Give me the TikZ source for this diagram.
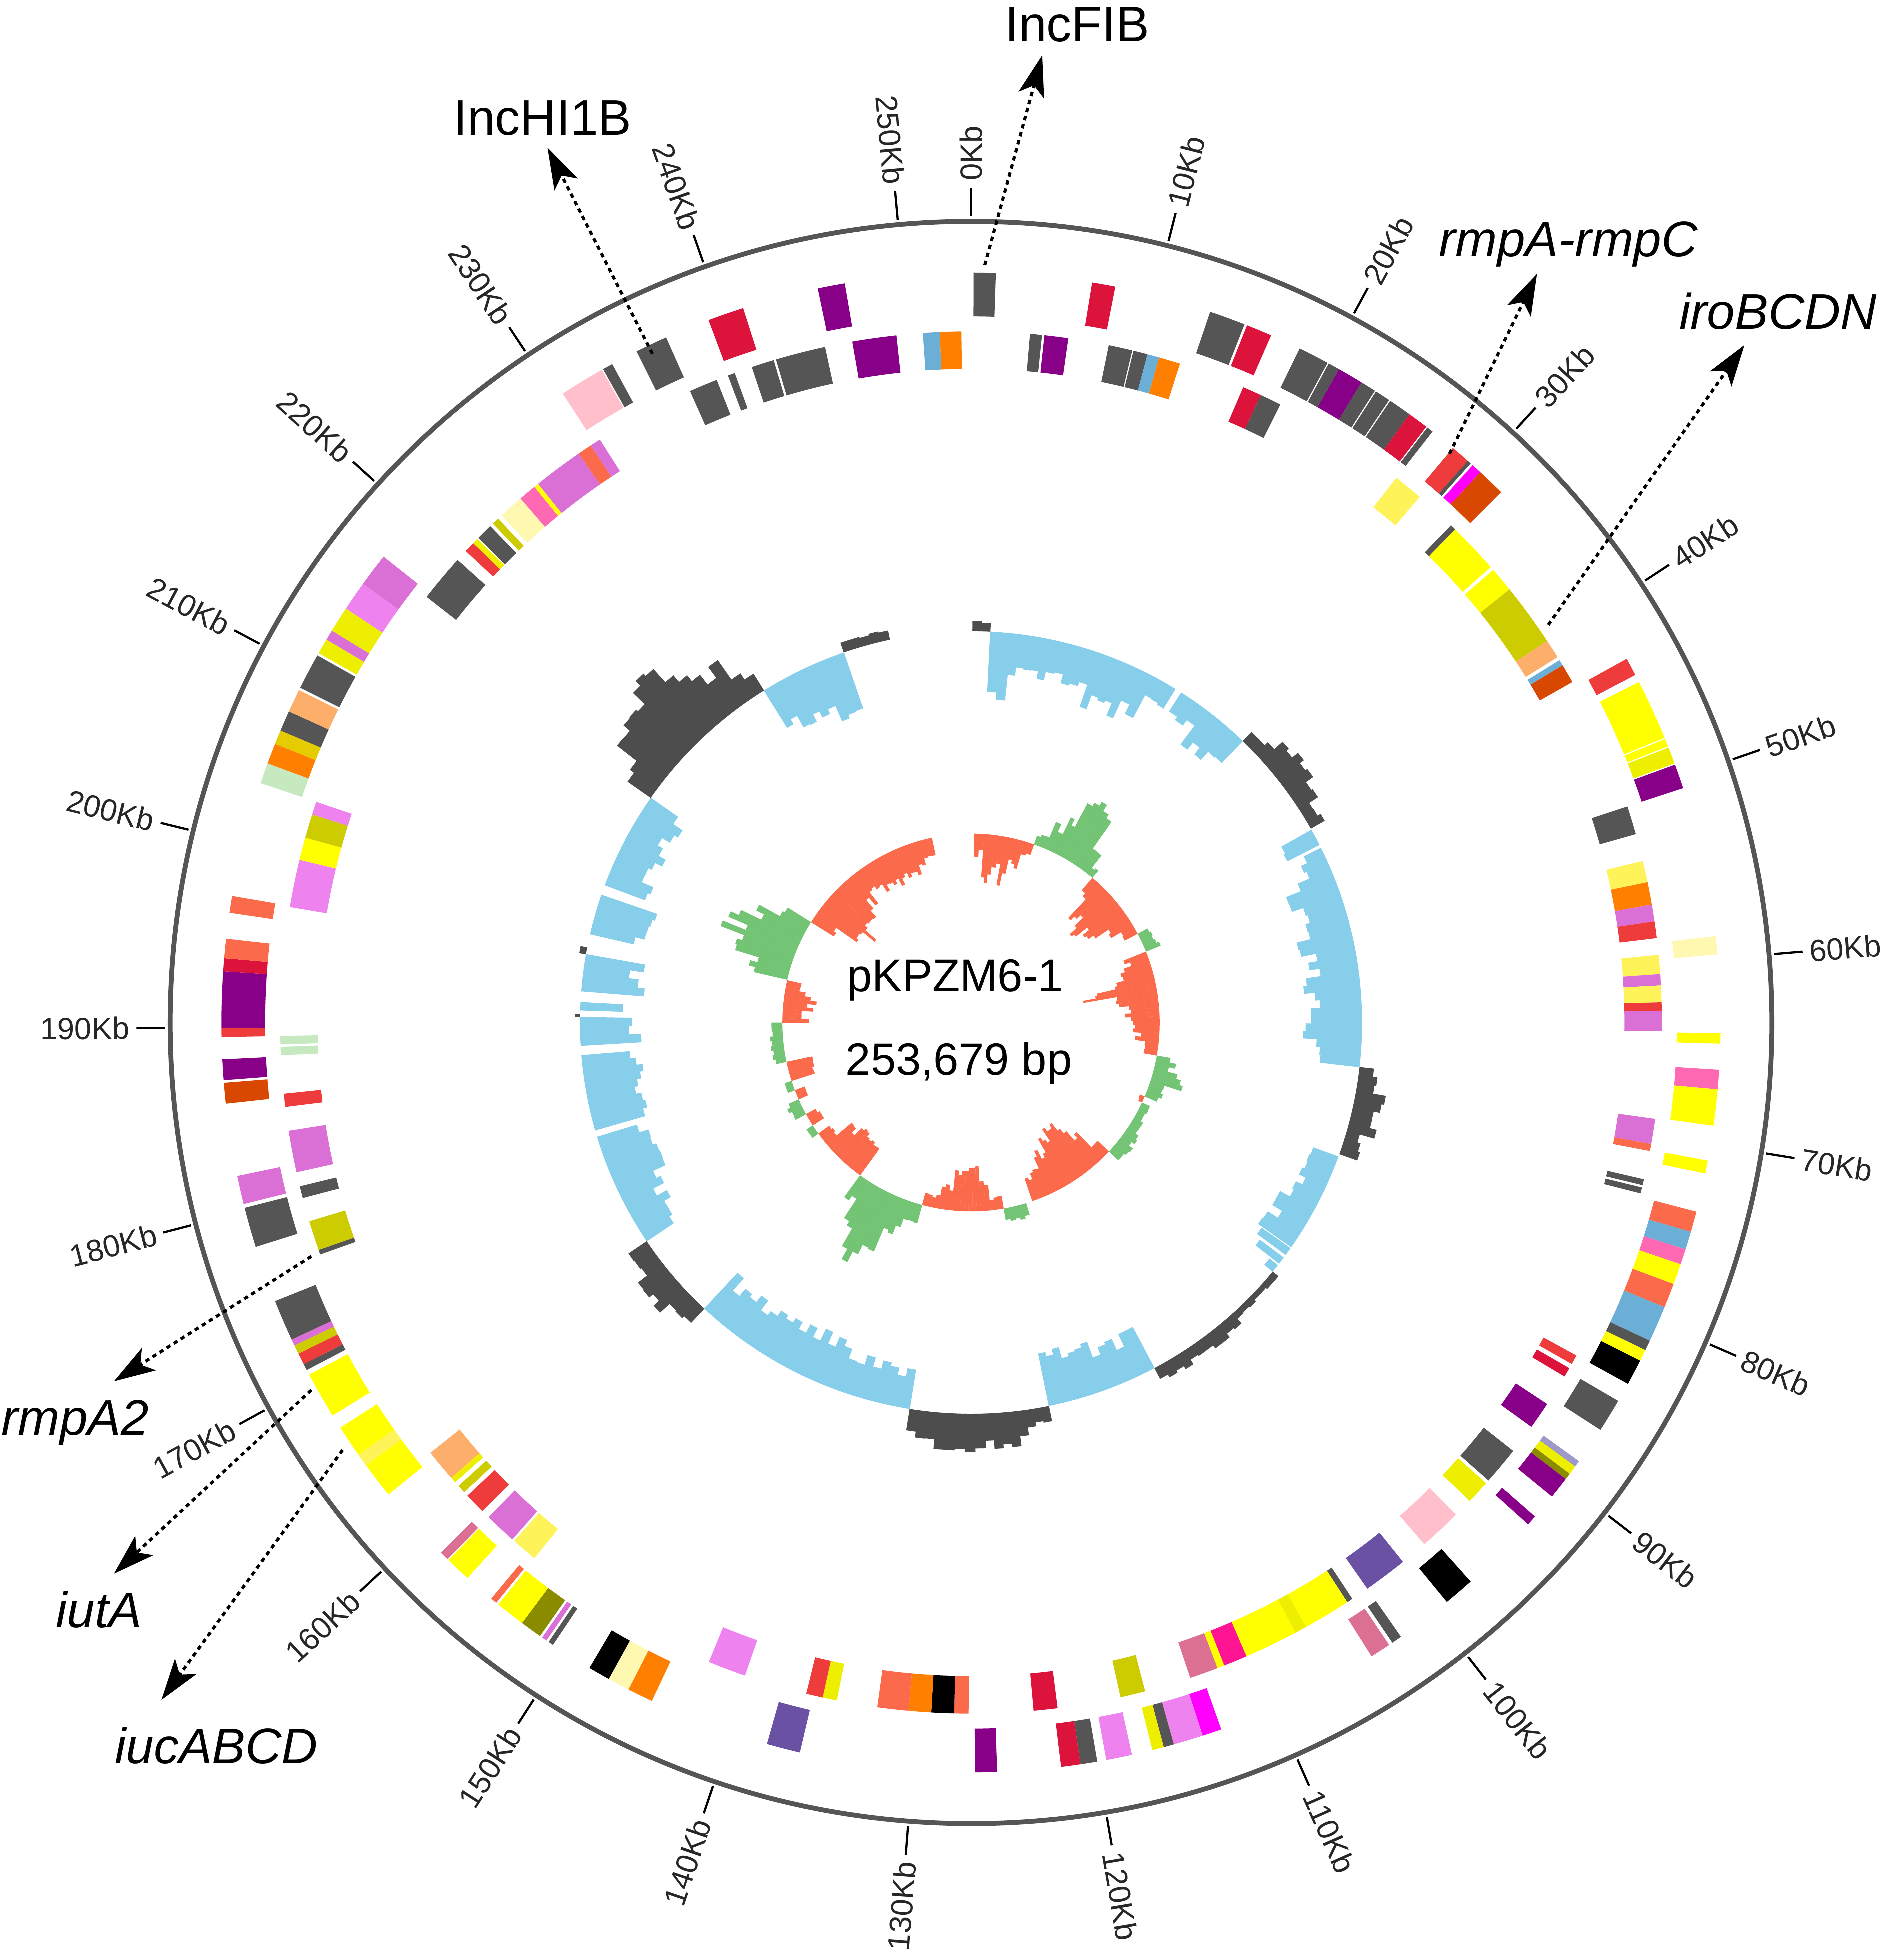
\documentclass[tikz,border=0pt]{standalone}
\usepackage{fontspec}
\setmainfont{Liberation Sans}
\usetikzlibrary{arrows.meta}
\usetikzlibrary{positioning}

% --- colours of the COG classes ---
\definecolor{cgray}{HTML}{555555}
\definecolor{ccrimson}{HTML}{DC143C}
\definecolor{cpurple}{HTML}{880088}
\definecolor{clightblue}{HTML}{6BAED6}
\definecolor{corange}{HTML}{FF8000}
\definecolor{cred}{HTML}{EE3B3B}
\definecolor{cmagenta}{HTML}{FF00FF}
\definecolor{corangered}{HTML}{D94801}
\definecolor{cyellow}{HTML}{FFFF00}
\definecolor{cyellowb}{HTML}{EEEE00}
\definecolor{cyellowpale}{HTML}{FFF35A}
\definecolor{coliveyellow}{HTML}{CCCC00}
\definecolor{colive}{HTML}{8B8B00}
\definecolor{cgold}{HTML}{E5CC00}
\definecolor{csalmon}{HTML}{FDAE6B}
\definecolor{clemon}{HTML}{FFF8B0}
\definecolor{corchid}{HTML}{DA70D6}
\definecolor{cviolet}{HTML}{EE82EE}
\definecolor{chotpink}{HTML}{FF69B4}
\definecolor{cdeeppink}{HTML}{FF1493}
\definecolor{cpink}{HTML}{FFC0CB}
\definecolor{ctomato}{HTML}{FB6A4A}
\definecolor{cslate}{HTML}{6A51A3}
\definecolor{cpvr}{HTML}{DB7093}
\definecolor{clightgreen}{HTML}{C7E9C0}
\definecolor{cmedpurple}{HTML}{9E9AC8}
\definecolor{gcgray}{HTML}{4D4D4D}
\definecolor{gcblue}{HTML}{87CEEB}
\definecolor{skred}{HTML}{FB6A4A}
\definecolor{skgreen}{HTML}{74C476}
\definecolor{ringgray}{HTML}{555555}

% annular sector: colour, from, to (degrees clockwise from top), inner r, outer r
\newcommand{\ringseg}[5]{\fill[#1] ({90-(#2)}:#4) arc[start angle={90-(#2)}, end angle={90-(#3)}, radius=#4] -- ({90-(#3)}:#5) arc[start angle={90-(#3)}, end angle={90-(#2)}, radius=#5] -- cycle;}

\begin{document}
\begin{tikzpicture}[
	kbtick/.style={line width=0.5pt, black},
	ticklbl/.style={inner sep=0pt, text=black!85, font=\fontsize{7}{8}\selectfont},
	genelbl/.style={inner sep=0pt, anchor=base, font=\fontsize{11.4}{13}\selectfont\itshape},
	replbl/.style={inner sep=0pt, anchor=base, font=\fontsize{11.4}{13}\selectfont},
	centrelbl/.style={inner sep=0pt, anchor=base west, font=\fontsize{10.3}{12}\selectfont},
	ptr/.style={line width=0.7pt, dash pattern=on 1pt off 0.9pt, -{Stealth[length=3.3mm, width=2.1mm, inset=0.8mm]}}
	]
	\useasboundingbox (-7.77,-7.50) rectangle (7.36,8.18);
	\pgfmathsetseed{17}

	% --- Backbone ---
	\draw[line width=1.1pt, ringgray] (0,0) circle[radius=6.41];
	\foreach \k in {0,...,25}{
		\pgfmathsetmacro{\ang}{\k*14.19116}
		\pgfmathtruncatemacro{\kb}{10*\k}
		\draw[kbtick] ({90-\ang}:6.45) -- ({90-\ang}:6.68);
		\ifdim\ang pt<180pt
			\node[ticklbl, anchor=west, rotate={90-\ang}] (kb\k) at ({90-\ang}:6.73) {\kb Kb};
		\else
			\node[ticklbl, anchor=east, rotate={270-\ang}] (kb\k) at ({90-\ang}:6.73) {\kb Kb};
		\fi
	}

	% --- CDS, outer track ---
	\foreach \ba/\bb/\bc in {0.2/1.9/cgray, 9.3/11.1/ccrimson, 18.6/21.4/cgray, 21.6/23.6/ccrimson,
		26.0/28.4/cgray, 28.5/29.4/cgray, 29.4/31.4/cpurple, 31.4/32.6/cgray, 32.7/33.9/cgray,
		34.0/35.8/cgray, 35.8/37.4/ccrimson, 37.5/38.0/cgray, 40.0/41.5/cred, 41.5/41.8/cgray,
		42.0/42.8/cmagenta, 42.8/45.0/corangered, 61.0/62.4/cred, 63.0/67.7/cyellow, 67.8/68.4/cyellow,
		68.5/69.8/cyellowb, 69.9/71.8/cpurple, 83.4/84.8/clemon, 90.8/91.6/cyellow, 93.6/95.1/chotpink,
		95.1/97.9/cyellow, 100.6/101.6/cyellow, 104.6/106.2/ctomato, 106.2/107.6/clightblue,
		107.6/108.8/chotpink, 108.8/110.4/cyellow, 110.4/112.3/ctomato, 112.3/115.1/clightblue,
		115.1/115.9/cgray, 115.9/116.8/cyellow, 116.8/118.8/black, 120.3/122.9/cgray,
		125.8/126.3/cmedpurple, 126.3/127.0/cyellowb, 127.0/127.5/colive, 127.5/129.2/cpurple,
		131.2/132.0/cpurple, 138.2/140.6/black, 145.0/145.8/cgray, 146.1/147.7/cpvr,
		160.5/162.0/cmagenta, 162.0/164.3/cviolet, 164.3/165.1/cgray, 165.1/166.0/cyellowb,
		167.6/169.6/cviolet, 170.3/171.6/cgray, 171.6/173.1/ccrimson, 178.0/179.7/cpurple,
		193.2/195.8/cslate, 205.2/207.2/corange, 207.2/208.9/clemon, 208.9/210.6/black,
		213.9/214.3/cgray, 214.5/214.9/corchid, 215.1/216.8/colive, 216.8/219.1/cyellow,
		219.3/219.8/ctomato, 222.2/224.2/cyellow, 224.3/225.0/cpvr, 231.0/237.3/cyellow,
		233.8/234.8/cyellowpale, 238.4/242.0/cyellow, 242.4/242.9/cgray, 242.9/243.8/cred,
		243.8/244.5/coliveyellow, 244.5/245.0/corchid, 245.0/248.2/cgray, 252.6/255.7/cgray,
		256.0/258.2/corchid, 263.8/265.4/corangered, 265.6/267.2/cpurple, 268.9/269.6/cred,
		269.6/273.9/cpurple, 273.9/274.9/ccrimson, 274.9/276.4/ctomato, 278.4/279.7/ctomato,
		288.6/290.2/clightgreen, 290.2/291.8/corange, 291.8/292.9/cgold, 292.9/294.5/cgray,
		294.5/296.3/csalmon, 296.5/299.3/cgray, 299.5/300.7/cyellowb, 300.7/301.5/corchid,
		301.5/303.5/cyellowb, 303.5/305.8/cviolet, 305.8/308.4/corchid, 327.0/330.5/cpink,
		330.6/331.4/cgray, 333.5/336.0/cgray, 339.5/342.3/ccrimson, 348.2/350.3/cpurple}{
		\ringseg{\bc}{\ba}{\bb}{5.65}{6.00}
	}

	% --- CDS, inner track ---
	\foreach \ba/\bb/\bc in {350.1/353.8/cpurple, 356.0/357.4/clightblue, 357.4/359.2/corange,
		4.9/5.9/cgray, 6.1/8.1/cpurple, 11.5/13.5/cgray, 13.6/14.8/cgray, 14.8/15.8/clightblue,
		15.8/17.6/corange, 23.2/24.8/ccrimson, 24.8/26.6/cgray, 38.0/40.5/cyellowpale,
		44.0/44.5/cgray, 44.5/48.8/cyellow, 49.1/51.2/cyellow, 51.2/56.5/coliveyellow,
		56.5/58.1/csalmon, 58.4/58.9/clightblue, 58.9/60.5/corangered, 71.8/74.2/cgray,
		76.5/78.3/cyellowpale, 78.3/80.2/corange, 80.2/81.6/corchid, 81.6/83.0/cred,
		84.4/86.0/cyellowpale, 86.0/86.9/corchid, 86.9/88.3/cyellowpale, 88.3/89.0/cred,
		89.0/90.7/corchid, 98.0/100.1/corchid, 100.1/100.7/ctomato, 103.1/103.6/cgray,
		103.8/104.3/cgray, 118.8/119.6/cred, 120.0/120.8/ccrimson, 123.5/125.8/cpurple,
		128.3/131.5/cgray, 131.8/133.8/cyellowb, 135.4/139.0/cpink, 141.3/145.0/cslate,
		146.5/147.0/cgray, 147.0/151.0/cyellow, 151.0/152.0/cyellowb, 152.0/156.5/cyellow,
		156.5/158.5/cdeeppink, 158.5/159.1/cyellow, 159.1/161.5/cpvr, 165.4/167.5/coliveyellow,
		172.8/174.8/ccrimson, 180.2/181.4/ctomato, 181.4/183.3/black, 183.3/185.2/corange,
		185.2/187.8/ctomato, 191.2/192.4/cyellowb, 192.4/193.8/cred, 199.1/202.3/cviolet,
		219.2/221.4/cyellowpale, 221.6/224.3/corchid, 225.0/226.8/cred, 227.2/227.9/coliveyellow,
		228.3/228.8/cyellowb, 228.8/231.5/csalmon, 250.4/250.8/cgray, 250.8/253.3/coliveyellow,
		255.3/256.3/cgray, 257.5/261.0/corchid, 263.0/264.1/cred, 267.3/268.0/clightgreen,
		268.2/268.9/clightgreen, 279.6/283.6/cviolet, 283.6/285.5/cyellow, 285.5/287.5/coliveyellow,
		287.5/288.6/cviolet, 308.0/312.0/cgray, 313.0/313.9/cred, 313.9/314.4/cyellowb,
		314.5/315.9/cgray, 316.2/316.8/coliveyellow, 317.2/319.3/clemon, 319.3/320.8/chotpink,
		320.8/321.2/cyellow, 321.2/325.4/corchid, 325.4/326.6/ctomato, 326.6/327.5/corchid,
		336.0/338.4/cgray, 339.4/340.0/cgray, 341.5/343.4/cgray, 343.6/347.8/cgray}{
		\ringseg{\bc}{\ba}{\bb}{5.23}{5.53}
	}

	% --- GC content ---
	\foreach \ga/\gb/\gv in {0.2/2.8/8, 2.8/6/-50, 6/12/-36, 12/19/-32, 19/25/-44, 25/28/-38,
		28/31.5/-18, 32.5/37/-20, 37/44/-33, 44/48/14, 48/53/24, 53/57/22, 57/60.3/12,
		60.5/63/-38, 63.5/67/-20, 67/75/-40, 75/85/-42, 85/96.5/-44, 96.5/100/14, 100/106/22,
		106/109.6/14, 110/116/-22, 116/125/-30, 125.2/126.4/-35, 126.9/128/-30, 128.3/129.5/-10,
		129.5/138/6, 138/152/12, 152/160/-35, 160/168.5/-40, 168.5/172/15, 172/178/28,
		178/185/34, 185/189/22, 189/200/-32, 200/212/-40, 212/223/-36, 223/227/19, 227/232/26,
		232/236/16, 236/245/-35, 245/253/-42, 254/258/-44, 258/265.2/-45, 266.6/270.8/-46,
		270.8/271.2/4, 271.8/273/-44, 274.6/280/-46, 280/281/5, 283/289/-44, 290.5/298/-36,
		298/305/-34, 305/308/25, 308/313/50, 313/318/64, 318/322/50, 322/325/38, 325/328/20,
		328/334/-40, 334/341/-48, 341/348/8}{
		\pgfmathtruncatemacro{\nb}{max(1,round((\gb-\ga)/1.3))}
		\foreach \jj in {1,...,\nb}{
			\pgfmathsetmacro{\sa}{\ga+(\jj-1)*(\gb-\ga)/\nb}
			\pgfmathsetmacro{\sb}{\ga+\jj*(\gb-\ga)/\nb+0.04}
			\pgfmathsetmacro{\hh}{3.13+\gv*(0.72+0.38*rnd)/100}
			\ifdim\gv pt>0pt \ringseg{gcgray}{\sa}{\sb}{3.13}{\hh}\else\ringseg{gcblue}{\sa}{\sb}{\hh}{3.13}\fi
		}
	}

	% --- GC skew ---
	\foreach \ga/\gb/\gv in {1/4/-17, 4/7.5/-37, 7.5/10.5/-30, 10.5/13/-38, 13/16.5/-22, 16.5/19.5/-10,
		19.5/23/10, 23/26/22, 26/28/35, 28/32/60, 32/35/45, 35/38/25, 38/40/8, 40/43/-15, 43/47/-35,
		47/52/-42, 52/56/-35, 56/59/-25, 59/62/-12, 62/68/12, 68/72/-20, 72/76/-30, 76/78/-45,
		78/80/-60, 80/84/-40, 84/88/-30, 88/92/-25, 92/96/-20, 96/100/-12, 100/104/15, 104/108/25,
		108/113/12, 113/115/-4, 115/124/8, 124/133/12, 133/136/-15, 136/140/-35, 140/145/-52,
		145/150/-45, 150/155/-38, 155/161/-22, 163/170/12, 170/174/-10, 174/177/-25, 177/182/-40,
		182/186/-30, 186/190/-20, 190/195/-10, 195/199/15, 199/203/30, 203/206/45, 206/210/62,
		210/213/40, 213/216/20, 216/220/-28, 220/226/-33, 226/230/-25, 230/234/-12, 234/237/6,
		237/241/-12, 241/246/12, 246/249/-8, 249/252/6, 252/258/-20, 258/270/10, 270/274/-20,
		274/279/-26, 279/283/-15, 283/287/30, 287/291/45, 291/296/58, 296/299/40, 299/302/25,
		302/305/-25, 305/311/-48, 311/318/-40, 318/322/-30, 322/326/-20, 326/332/-25, 332/338/-28,
		338/344/-25, 344/348/-15}{
		\pgfmathtruncatemacro{\nb}{max(1,round((\gb-\ga)/1.3))}
		\foreach \jj in {1,...,\nb}{
			\pgfmathsetmacro{\sa}{\ga+(\jj-1)*(\gb-\ga)/\nb}
			\pgfmathsetmacro{\sb}{\ga+\jj*(\gb-\ga)/\nb+0.04}
			\pgfmathsetmacro{\hh}{1.51+\gv*(0.72+0.38*rnd)/100}
			\ifdim\gv pt>0pt \ringseg{skgreen}{\sa}{\sb}{1.51}{\hh}\else\ringseg{skred}{\sa}{\sb}{\hh}{1.51}\fi
		}
	}

	% --- Name and size ---
	\node[centrelbl] (plname) at (-1.00,0.25) {pKPZM6-1};
	\node[centrelbl] (plsize) at (-1.01,-0.42) {253,679 bp};

	% --- Replicons and virulence genes ---
	\coordinate (incfibsrc) at (0.11,6.06);
	\coordinate (incfibtip) at (0.57,7.74);
	\node[replbl] (incfib) at (0.85,7.85) {IncFIB};
	\draw[ptr] (incfibsrc) -- (incfibtip);

	\coordinate (inchisrc) at (-2.55,5.35);
	\coordinate (inchitip) at (-3.39,7.00);
	\node[replbl] (inchi) at (-3.43,7.10) {IncHI1B};
	\draw[ptr] (inchisrc) -- (inchitip);

	\coordinate (rmpacsrc) at (3.83,4.55);
	\coordinate (rmpactip) at (4.53,5.99);
	\node[genelbl] (rmpac) at (4.78,6.13) {rmpA-rmpC};
	\draw[ptr] (rmpacsrc) -- (rmpactip);

	\coordinate (irosrc) at (4.62,3.18);
	\coordinate (irotip) at (6.19,5.42);
	\node[genelbl] (iro) at (6.46,5.55) {iroBCDN};
	\draw[ptr] (irosrc) -- (irotip);

	\coordinate (rmpatwosrc) at (-5.28,-1.87);
	\coordinate (rmpatwotip) at (-6.86,-2.87);
	\node[genelbl] (rmpatwo) at (-7.17,-3.30) {rmpA2};
	\draw[ptr] (rmpatwosrc) -- (rmpatwotip);

	\coordinate (iutsrc) at (-5.28,-2.94);
	\coordinate (iuttip) at (-6.86,-4.41);
	\node[genelbl] (iut) at (-6.98,-4.84) {iutA};
	\draw[ptr] (iutsrc) -- (iuttip);

	\coordinate (iucsrc) at (-5.03,-3.42);
	\coordinate (iuctip) at (-6.48,-5.42);
	\node[genelbl] (iuc) at (-6.04,-5.93) {iucABCD};
	\draw[ptr] (iucsrc) -- (iuctip);
\end{tikzpicture}
\end{document}
